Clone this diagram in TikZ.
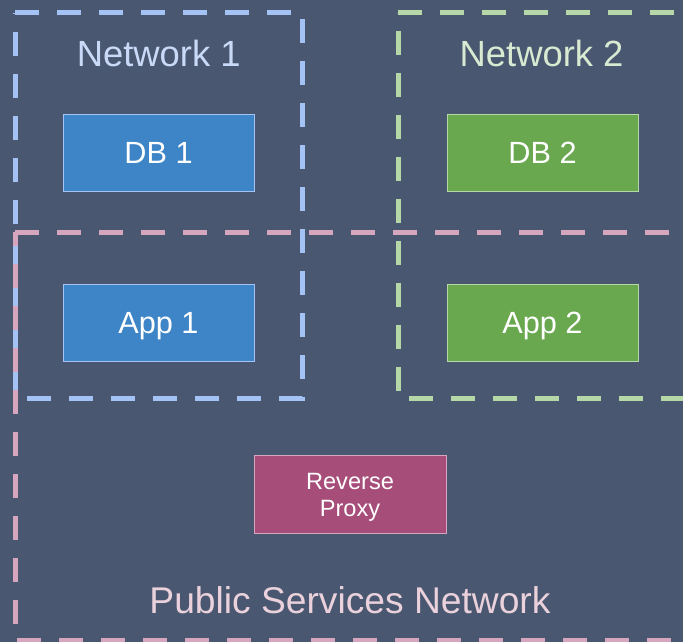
\documentclass[tikz,border=0pt]{standalone}
\usepackage{fontspec}
\setmainfont{Liberation Sans}

\definecolor{bgslate}{HTML}{495870}
\definecolor{netblue}{HTML}{A4C2F4}
\definecolor{netgreen}{HTML}{B6D7A8}
\definecolor{netpink}{HTML}{D5A6BD}
\definecolor{labelblue}{HTML}{C9DAF8}
\definecolor{labelgreen}{HTML}{D9EAD3}
\definecolor{labelpink}{HTML}{EAD1DC}
\definecolor{fillblue}{HTML}{3D85C6}
\definecolor{fillgreen}{HTML}{6AA84F}
\definecolor{fillmagenta}{HTML}{A64D79}

\begin{document}
\begin{tikzpicture}[x=0.75pt,y=-0.75pt,
  netline/.style={line width=3.75pt, dash pattern=on 18pt off 13.5pt, line join=miter},
  netlabel/.style={anchor=base, inner sep=0pt, font=\fontsize{27.3}{32}\selectfont},
  servicebox/.style={draw, line width=0.75pt, inner sep=0pt,
    minimum width=143.25pt, minimum height=57.75pt, text=white,
    font=\fontsize{23}{27}\selectfont, text height=16.5pt, text depth=0pt},
  proxybox/.style={draw, line width=0.75pt, inner sep=0pt,
    minimum width=144pt, minimum height=58.5pt},
  proxytext/.style={align=center, inner sep=0pt, text=white,
    font=\fontsize{17.7}{20.25}\selectfont}]

  % canvas
  \fill[bgslate] (0,0) rectangle (683,642);
  \useasboundingbox (0,0) rectangle (683,642);

  % network boundaries (each traced clockwise from its top-left corner)
  \draw[netline, netblue]  (15,12.7) -- (302.5,12.7) -- (302.5,398) -- (15,398) -- cycle;
  \draw[netline, netgreen] (398.3,12.7) -- (685,12.7) -- (685,398) -- (398.3,398) -- cycle;
  \draw[netline, netpink]  (15,232.5) -- (685,232.5) -- (685,640) -- (15,640) -- cycle;

  % network names
  \node[netlabel, text=labelblue]  (net1)   at (158.7,66.7) {Network 1};
  \node[netlabel, text=labelgreen] (net2)   at (541.6,66.7) {Network 2};
  \node[netlabel, text=labelpink, font=\fontsize{27.9}{32}\selectfont] (public) at (350,613.5) {Public Services Network};

  % services
  \node[servicebox, fill=fillblue,  draw=netblue]  (db1)  at (158.5,153) {DB 1};
  \node[servicebox, fill=fillgreen, draw=netgreen] (db2)  at (542.5,153) {DB 2};
  \node[servicebox, fill=fillblue,  draw=netblue]  (app1) at (158.5,322.5) {App 1};
  \node[servicebox, fill=fillgreen, draw=netgreen] (app2) at (542.5,322.5) {App 2};
  \node[proxybox, fill=fillmagenta, draw=netpink]  (proxy) at (350,494.5) {};
  \node[proxytext] (proxylabel) at (350,497.5) {Reverse\\Proxy};
\end{tikzpicture}
\end{document}
